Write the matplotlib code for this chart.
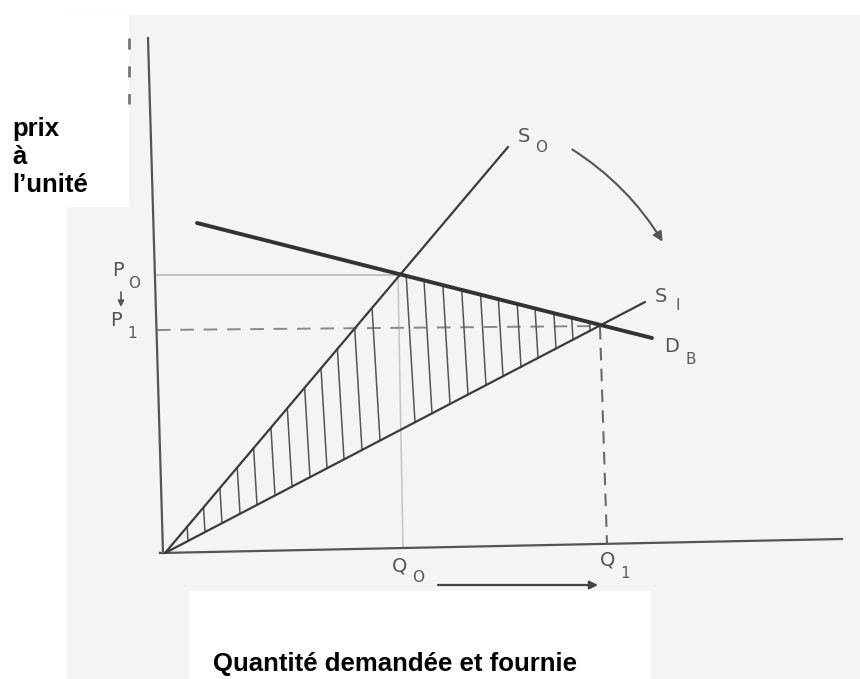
import numpy as np
import matplotlib
matplotlib.use("Agg")
import matplotlib.pyplot as plt
from matplotlib.patches import Rectangle, FancyArrowPatch

# Diagram geometry, in the coordinates of the scanned sheet (y grows downward)
Y_AXIS_X = [148, 163]
Y_AXIS_Y = [38, 553]
X_AXIS_X = [160, 842]
X_AXIS_Y = [553, 539]

S0_X = [165, 508]          # supply before
S0_Y = [553, 147]
S1_X = [165, 645]          # supply after
S1_Y = [553, 302]
D_X = [197, 652]           # demand D_B
D_Y = [223, 338]

P0_LINE_X = [155, 398]
P0_LINE_Y = [275, 275]
P1_LINE_X = [157, 600]
P1_LINE_Y = [330, 326]
Q0_LINE_X = [398, 403]
Q0_LINE_Y = [275, 548]
Q1_LINE_X = [600, 607]
Q1_LINE_Y = [327, 544]

# foot of each hatch stroke on S1
HATCH_X = [188, 205, 222, 240, 257, 275, 292, 310, 327, 344, 362, 380,
           415, 432, 450, 468, 486, 503, 521, 538, 556, 573, 590]

Q_ARROW_X = [438, 598]
Q_ARROW_Y = [585, 585]
P_ARROW_X = [121, 121]
P_ARROW_Y = [292, 307]
SHIFT_X = [570, 664]
SHIFT_Y = [148, 244]

# scanned letters: (text, x, y)
MAIN_LABELS = [("P", 118, 270), ("P", 116, 321), ("S", 524, 136),
               ("S", 661, 297), ("D", 672, 346), ("Q", 400, 566), ("Q", 608, 560)]
SUB_LABELS = [("O", 134, 284), ("1", 132, 334), ("O", 541, 147),
              ("I", 678, 305), ("B", 691, 359), ("O", 418, 577), ("1", 625, 573)]

INK = "#3c3c3c"
PAPER = "#f4f4f4"


def line_y(xs, ys, x):
    slope = (ys[1] - ys[0]) / (xs[1] - xs[0])
    return ys[0] + slope * (x - xs[0])


fig = plt.figure(figsize=(8.6, 6.79), dpi=100, facecolor="white")
ax = fig.add_axes([0, 0, 1, 1])
ax.set_xlim(0, 860)
ax.set_ylim(679, 0)
ax.axis("off")

# scanned sheet and the white pasted boxes
ax.add_patch(Rectangle((67, 15), 793, 664, color=PAPER, zorder=0))
ax.add_patch(Rectangle((0, 15), 128, 191, color="white", zorder=0.5))
ax.add_patch(Rectangle((189, 591), 461, 88, color="white", zorder=0.5))

# axes of the diagram
ax.plot(Y_AXIS_X, Y_AXIS_Y, color="#555555", lw=1.6, zorder=2)
ax.plot(X_AXIS_X, X_AXIS_Y, color="#555555", lw=1.6, zorder=2)
ax.plot([129, 129], [38, 104], color="#777777", lw=2, ls=(0, (4, 6)), zorder=2)

# guide lines
ax.plot(P0_LINE_X, P0_LINE_Y, color="#b4b4b4", lw=1.1, zorder=1)
ax.plot(Q0_LINE_X, Q0_LINE_Y, color="#c4c4c4", lw=1.1, zorder=1)
ax.plot(P1_LINE_X, P1_LINE_Y, color="#8a8a8a", lw=1.4, ls=(0, (7, 5)), zorder=1)
ax.plot(Q1_LINE_X, Q1_LINE_Y, color="#6a6a6a", lw=1.5, ls=(0, (6, 4)), zorder=1)

# hatch between the curves
for xb in HATCH_X:
    yb = line_y(S1_X, S1_Y, xb)
    xt = xb
    for _ in range(3):
        yt = max(line_y(S0_X, S0_Y, xt), line_y(D_X, D_Y, xt))
        xt = xb - 0.06 * (yb - yt)
    ax.plot([xb, xt], [yb, yt], color="#555555", lw=1.1, zorder=2)

# curves
ax.plot(S0_X, S0_Y, color=INK, lw=1.6, zorder=3, solid_capstyle="round")
ax.plot(S1_X, S1_Y, color=INK, lw=1.6, zorder=3, solid_capstyle="round")
ax.plot(D_X, D_Y, color="#333333", lw=2.8, zorder=3, solid_capstyle="round")

# arrows
ax.annotate("", xy=(Q_ARROW_X[1], Q_ARROW_Y[1]), xytext=(Q_ARROW_X[0], Q_ARROW_Y[0]),
            arrowprops=dict(arrowstyle="-|>", color="#444444", lw=1.6,
                            mutation_scale=12, shrinkA=0, shrinkB=0))
ax.annotate("", xy=(P_ARROW_X[1], P_ARROW_Y[1]), xytext=(P_ARROW_X[0], P_ARROW_Y[0]),
            arrowprops=dict(arrowstyle="-|>", color="#555555", lw=1.2,
                            mutation_scale=9, shrinkA=0, shrinkB=0))
ax.add_patch(FancyArrowPatch((SHIFT_X[0], SHIFT_Y[0]), (SHIFT_X[1], SHIFT_Y[1]),
                             connectionstyle="arc3,rad=-0.12", arrowstyle="-|>",
                             mutation_scale=14, color="#555555", lw=1.5, zorder=3))

# scanned letters
for txt, x, y in MAIN_LABELS:
    ax.text(x, y, txt, fontsize=14, color="#555555", ha="center", va="center",
            family="DejaVu Sans")
for txt, x, y in SUB_LABELS:
    ax.text(x, y, txt, fontsize=11, color="#5a5a5a", ha="center", va="center",
            family="DejaVu Sans")

# pasted axis titles
ax.text(12, 157, "prix\nà\nl’unité", fontsize=18.5, fontweight="bold",
        family="Liberation Sans", ha="left", va="center", linespacing=1.22,
        zorder=4)
ax.text(395, 671, "Quantité demandée et fournie", fontsize=18.5,
        fontweight="bold", family="Liberation Sans", ha="center",
        va="baseline", zorder=4)

fig.savefig("out.png", dpi=100, facecolor="white")
